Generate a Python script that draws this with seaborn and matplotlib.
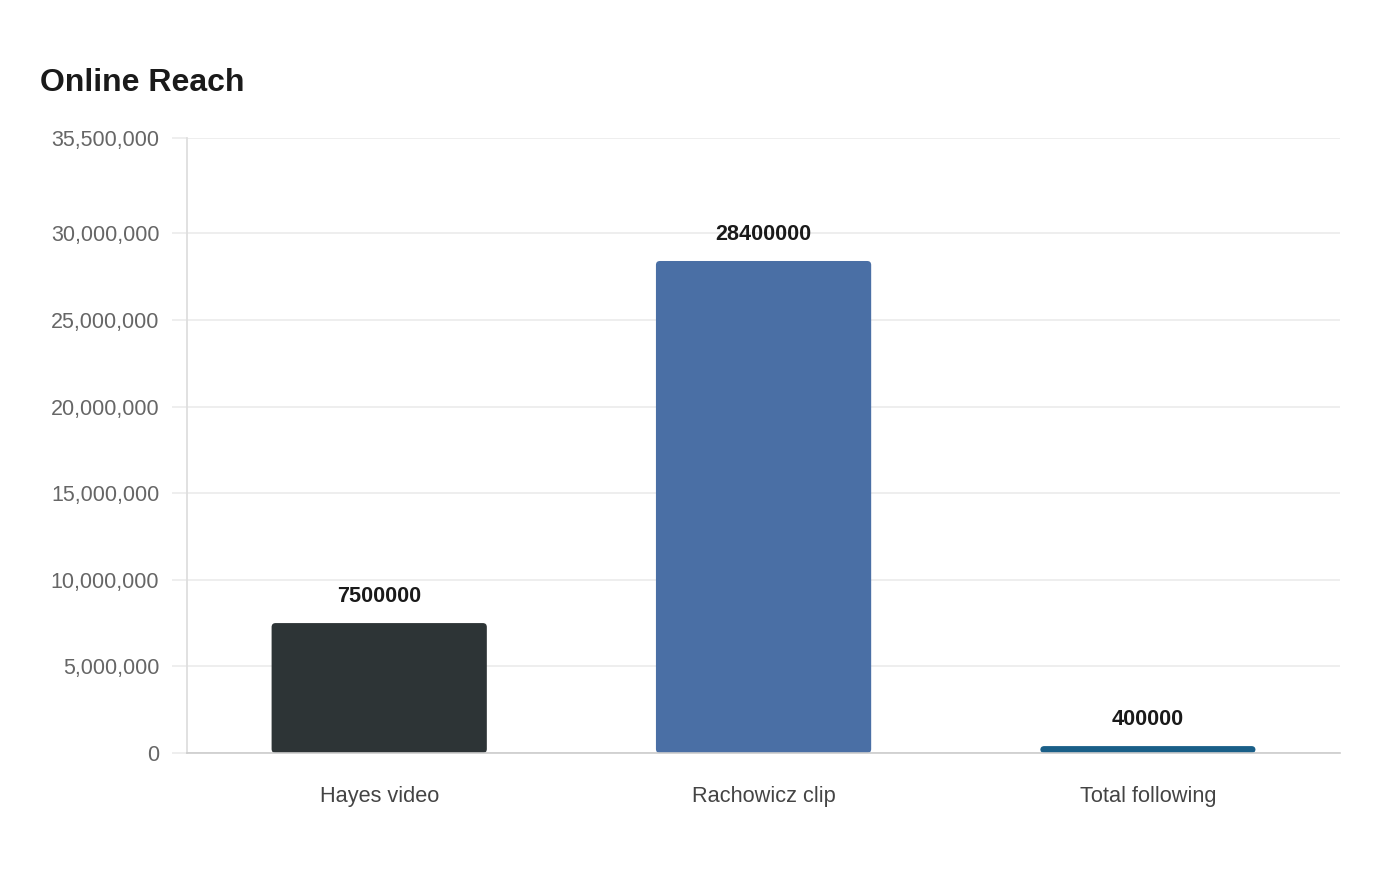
import matplotlib
matplotlib.use("Agg")
import matplotlib.pyplot as plt
import seaborn as sns
import pandas as pd
from matplotlib.patches import FancyBboxPatch
from matplotlib.ticker import FuncFormatter

categories = ["Hayes video", "Rachowicz clip", "Total following"]
values = [7500000, 28400000, 400000]
bar_colors = ["#2d3436", "#4a6fa5", "#1a5f88"]
y_ticks = [0, 5000000, 10000000, 15000000, 20000000, 25000000, 30000000, 35500000]

df = pd.DataFrame({"item": categories, "reach": values})

sns.set_theme(style="white")
plt.rcParams["font.family"] = ["Liberation Sans", "DejaVu Sans"]

fig = plt.figure(figsize=(14, 8.8), dpi=100)
ax = fig.add_axes([0.1336, 0.1443, 0.8236, 0.6989])

sns.barplot(data=df, x="item", y="reach", hue="item", palette=bar_colors,
            width=0.56, legend=False, ax=ax, saturation=1)

ax.set_xlim(-0.5, 2.5)
ax.set_ylim(0, 35500000)

# swap the plain bars for ones with slightly rounded corners
px_x = (ax.get_xlim()[1] - ax.get_xlim()[0]) / (fig.get_figwidth() * fig.dpi * 0.8236)
px_y = (ax.get_ylim()[1] - ax.get_ylim()[0]) / (fig.get_figheight() * fig.dpi * 0.6989)
radius = 4 * px_x
for bar in list(ax.patches):
    x, y = bar.get_x(), bar.get_y()
    w, h = bar.get_width(), bar.get_height()
    fc = bar.get_facecolor()
    bar.remove()
    ax.add_patch(FancyBboxPatch((x, y), w, h,
                                boxstyle=f"round,pad=0,rounding_size={radius}",
                                mutation_aspect=px_y / px_x,
                                facecolor=fc, edgecolor="none", zorder=2))

ax.set_yticks(y_ticks)
ax.yaxis.set_major_formatter(FuncFormatter(lambda v, p: f"{int(v):,}"))
ax.grid(axis="y", color="#ebebeb", linewidth=1.2)
ax.set_axisbelow(True)

ax.set_xlabel("")
ax.set_ylabel("")
for s in ["top", "right"]:
    ax.spines[s].set_visible(False)
ax.spines["left"].set_color("#dddddd")
ax.spines["bottom"].set_color("#cccccc")
ax.spines["bottom"].set_linewidth(1.2)
ax.spines["bottom"].set_zorder(3)

ax.tick_params(axis="y", which="major", left=True, length=11, width=1.2,
               color="#ebebeb", pad=9, labelsize=15.5, labelcolor="#666666")
ax.tick_params(axis="x", length=0, pad=24, labelsize=15.7, labelcolor="#444444")

for i, v in enumerate(values):
    ax.annotate(str(v), (i, v), xytext=(0, 11.5), textcoords="offset points",
                ha="center", va="bottom", fontsize=15.6, fontweight="bold",
                color="#1a1a1a")

fig.text(0.0286, 0.906, "Online Reach", fontsize=23, fontweight="bold",
         color="#1a1a1a", ha="left", va="center")

fig.savefig("out.png", dpi=100)
